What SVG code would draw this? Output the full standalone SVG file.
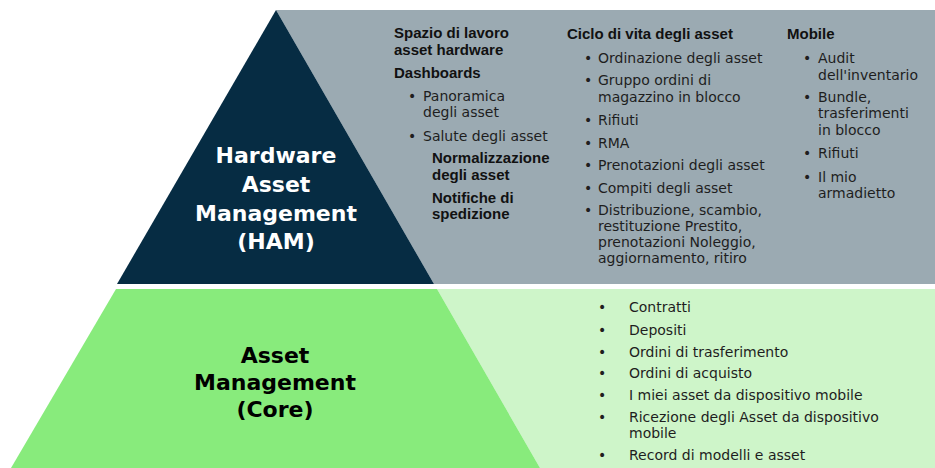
<svg xmlns="http://www.w3.org/2000/svg" width="935" height="468" viewBox="0 0 935 468">
<style>
.t{font-family:"DejaVu Sans","Liberation Sans",sans-serif;font-size:14px;fill:#1e1e1e}
.b{font-family:"Liberation Sans",Arial,sans-serif;font-size:15px;font-weight:bold;fill:#111}
.title{font-family:"DejaVu Sans",sans-serif;font-size:22px;font-weight:bold;text-anchor:middle}
</style>
<rect width="935" height="468" fill="#ffffff"/>
<g id="ham">
<polygon points="276,10 935,10 935,284 434,284" fill="#9baab2"/>
<polygon points="276,10 117,284 434,284" fill="#062c43"/>
<text class="title" fill="#ffffff"><tspan x="276" y="163">Hardware</tspan><tspan x="276" y="192">Asset</tspan><tspan x="276" y="221">Management</tspan><tspan x="276" y="249">(HAM)</tspan></text>
</g>
<g id="core">
<polygon points="437,289 935,289 935,468 540,468" fill="#cef5c9"/>
<polygon points="116,289 437,289 540,468 11,468" fill="#88eb7c"/>
<text class="title" fill="#000000"><tspan x="275" y="363">Asset</tspan><tspan x="275" y="390">Management</tspan><tspan x="275" y="417">(Core)</tspan></text>
</g>
<g id="ham-workspace">
<text class="b" x="394" y="38">Spazio di lavoro</text>
<text class="b" x="394" y="55">asset hardware</text>
<text class="b" x="394" y="78">Dashboards</text>
<text class="t" x="408" y="101">•</text>
<text class="t" x="423" y="101">Panoramica</text>
<text class="t" x="423" y="117">degli asset</text>
<text class="t" x="408" y="141">•</text>
<text class="t" x="423" y="141">Salute degli asset</text>
<text class="b" x="432" y="163">Normalizzazione</text>
<text class="b" x="432" y="180">degli asset</text>
<text class="b" x="432" y="203">Notifiche di</text>
<text class="b" x="432" y="219">spedizione</text>
</g>
<g id="ham-lifecycle">
<text class="b" x="567" y="39">Ciclo di vita degli asset</text>
<g class="t">
<text x="584" y="63">•</text><text x="598" y="63">Ordinazione degli asset</text>
<text x="584" y="85">•</text><text x="598" y="85">Gruppo ordini di</text>
<text x="598" y="102">magazzino in blocco</text>
<text x="584" y="125">•</text><text x="598" y="125">Rifiuti</text>
<text x="584" y="148">•</text><text x="598" y="148">RMA</text>
<text x="584" y="170">•</text><text x="598" y="170">Prenotazioni degli asset</text>
<text x="584" y="193">•</text><text x="598" y="193">Compiti degli asset</text>
<text x="584" y="215">•</text><text x="598" y="215">Distribuzione, scambio,</text>
<text x="598" y="231">restituzione Prestito,</text>
<text x="598" y="247">prenotazioni Noleggio,</text>
<text x="598" y="263">aggiornamento, ritiro</text>
</g>
</g>
<g id="ham-mobile">
<text class="b" x="787" y="39">Mobile</text>
<g class="t">
<text x="803" y="63">•</text><text x="818" y="63">Audit</text>
<text x="818" y="80">dell'inventario</text>
<text x="803" y="102">•</text><text x="818" y="102">Bundle,</text>
<text x="818" y="118">trasferimenti</text>
<text x="818" y="135">in blocco</text>
<text x="803" y="158">•</text><text x="818" y="158">Rifiuti</text>
<text x="803" y="182">•</text><text x="818" y="182">Il mio</text>
<text x="818" y="198">armadietto</text>
</g>
</g>
<g id="core-list" class="t">
<text x="598" y="312">•</text><text x="629" y="312">Contratti</text>
<text x="598" y="335">•</text><text x="629" y="335">Depositi</text>
<text x="598" y="357">•</text><text x="629" y="357">Ordini di trasferimento</text>
<text x="598" y="378">•</text><text x="629" y="378">Ordini di acquisto</text>
<text x="598" y="400">•</text><text x="629" y="400">I miei asset da dispositivo mobile</text>
<text x="598" y="422">•</text><text x="629" y="422">Ricezione degli Asset da dispositivo</text>
<text x="629" y="438">mobile</text>
<text x="598" y="460">•</text><text x="629" y="460">Record di modelli e asset</text>
</g>
</svg>
